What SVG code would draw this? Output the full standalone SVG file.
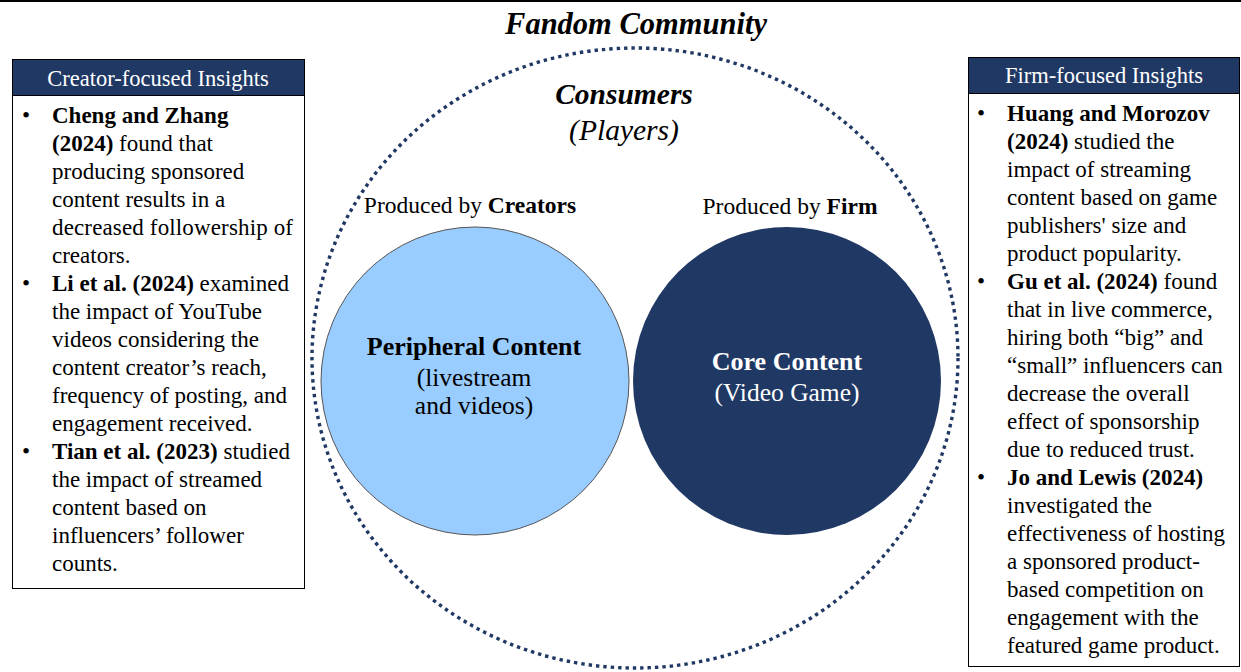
<svg xmlns="http://www.w3.org/2000/svg" width="1241" height="672" viewBox="0 0 1241 672">
<style>
text{font-family:"Liberation Serif","Times New Roman",serif;fill:#000}
.body{font-size:23px}
.hdr{font-size:22.5px;fill:#fff}
.b{font-weight:bold}
.box{fill:#fff;stroke:#000;stroke-width:1}
.hbar{fill:#203864;stroke:#000;stroke-width:1}
</style>
<rect width="1241" height="672" fill="#fff"/>
<line x1="0" y1="1" x2="1241" y2="1" stroke="#000" stroke-width="2"/>
<text x="636" y="34" text-anchor="middle" font-size="30.5" font-weight="bold" font-style="italic">Fandom Community</text>

<g id="fandom-circle">
<ellipse cx="635" cy="358" rx="323" ry="310" fill="none" stroke="#203864" stroke-width="3.4" stroke-dasharray="3.4 4"/>
</g>

<g id="consumers">
<text x="624" y="104" text-anchor="middle" font-size="29.5" font-weight="bold" font-style="italic">Consumers</text>
<text x="624" y="140" text-anchor="middle" font-size="29.5" font-style="italic">(Players)</text>
</g>

<g id="peripheral">
<text x="470" y="213" text-anchor="middle" font-size="23.5">Produced by <tspan class="b">Creators</tspan></text>
<circle cx="475" cy="381" r="154" fill="#99CCFF" stroke="#555" stroke-width="1"/>
<text x="474" y="355" text-anchor="middle" font-size="26" font-weight="bold">Peripheral Content</text>
<text x="474" y="386" text-anchor="middle" font-size="25.5">(livestream</text>
<text x="474" y="414" text-anchor="middle" font-size="25.5">and videos)</text>
</g>

<g id="core">
<text x="790" y="214" text-anchor="middle" font-size="23.5">Produced by <tspan class="b">Firm</tspan></text>
<circle cx="787" cy="381" r="154" fill="#203864"/>
<text x="787" y="370" text-anchor="middle" font-size="26" font-weight="bold" style="fill:#fff">Core Content</text>
<text x="787" y="401" text-anchor="middle" font-size="25.5" style="fill:#fff">(Video Game)</text>
</g>

<g id="creator-insights">
<rect class="box" x="12.5" y="59.5" width="292" height="529"/>
<rect class="hbar" x="12.5" y="59.5" width="292" height="36"/>
<text class="hdr" x="158" y="86" text-anchor="middle">Creator-focused Insights</text>
<g class="body">
<text x="22" y="123">•</text><text x="52" y="123" class="b">Cheng and Zhang</text>
<text x="52" y="151"><tspan class="b">(2024)</tspan> found that</text>
<text x="52" y="179">producing sponsored</text>
<text x="52" y="207">content results in a</text>
<text x="52" y="235" textLength="241" lengthAdjust="spacing">decreased followership of</text>
<text x="52" y="263">creators.</text>
<text x="22" y="291">•</text><text x="52" y="291"><tspan class="b">Li et al. (2024)</tspan> examined</text>
<text x="52" y="319">the impact of YouTube</text>
<text x="52" y="347">videos considering the</text>
<text x="52" y="375">content creator’s reach,</text>
<text x="52" y="403">frequency of posting, and</text>
<text x="52" y="431">engagement received.</text>
<text x="22" y="459">•</text><text x="52" y="459"><tspan class="b">Tian et al. (2023)</tspan> studied</text>
<text x="52" y="487">the impact of streamed</text>
<text x="52" y="515">content based on</text>
<text x="52" y="543">influencers’ follower</text>
<text x="52" y="571">counts.</text>
</g>
</g>

<g id="firm-insights">
<rect class="box" x="968.5" y="57.5" width="271" height="609"/>
<rect class="hbar" x="968.5" y="57.5" width="271" height="36"/>
<text class="hdr" x="1104" y="83" text-anchor="middle">Firm-focused Insights</text>
<g class="body">
<text x="977" y="121">•</text><text x="1007" y="121" class="b">Huang and Morozov</text>
<text x="1007" y="149"><tspan class="b">(2024)</tspan> studied the</text>
<text x="1007" y="177">impact of streaming</text>
<text x="1007" y="205">content based on game</text>
<text x="1007" y="233">publishers' size and</text>
<text x="1007" y="261">product popularity.</text>
<text x="977" y="289">•</text><text x="1007" y="289"><tspan class="b">Gu et al. (2024)</tspan> found</text>
<text x="1007" y="317">that in live commerce,</text>
<text x="1007" y="345">hiring both “big” and</text>
<text x="1007" y="373">“small” influencers can</text>
<text x="1007" y="401">decrease the overall</text>
<text x="1007" y="429">effect of sponsorship</text>
<text x="1007" y="457">due to reduced trust.</text>
<text x="977" y="485">•</text><text x="1007" y="485" class="b">Jo and Lewis (2024)</text>
<text x="1007" y="513">investigated the</text>
<text x="1007" y="541">effectiveness of hosting</text>
<text x="1007" y="569">a sponsored product-</text>
<text x="1007" y="597">based competition on</text>
<text x="1007" y="625">engagement with the</text>
<text x="1007" y="653">featured game product.</text>
</g>
</g>
</svg>
